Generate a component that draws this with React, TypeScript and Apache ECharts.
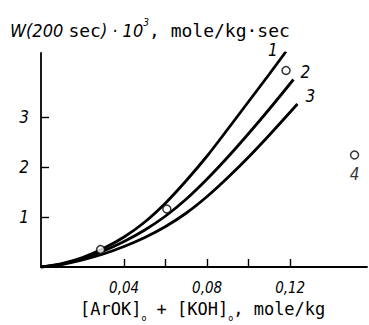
import React, { useEffect, useRef } from "react";
import * as echarts from "echarts";

const xValues = [0, 0.01, 0.02, 0.03, 0.04, 0.05, 0.06, 0.07, 0.08, 0.09, 0.1, 0.11];
const curve1 = [0, 0.07, 0.19, 0.37, 0.6, 0.9, 1.28, 1.73, 2.22, 2.76, 3.31, 3.86];
const curve1End = [0.118, 4.31];
const curve2 = [0, 0.06, 0.17, 0.32, 0.51, 0.74, 1.02, 1.36, 1.76, 2.2, 2.67, 3.16];
const curve2End = [0.1216, 3.75];
const curve3 = [0, 0.05, 0.14, 0.26, 0.41, 0.59, 0.81, 1.08, 1.41, 1.79, 2.2, 2.64];
const curve3End = [0.1235, 3.26];
const circlesX = [0.0287, 0.0606, 0.118];
const circlesY = [0.35, 1.16, 3.93];
const point4 = [0.151, 2.24];
const curveNames = ["1", "2", "3"];
const point4Name = "4";
const xTickValues = [0.04, 0.06, 0.08, 0.1, 0.12];
const xLabelValues = [0.04, 0.08, 0.12];
const yTickValues = [1, 2, 3];

const italicFont = "'Liberation Sans Narrow', 'DejaVu Sans Condensed', 'Liberation Sans', sans-serif";
const monoFont = "'DejaVu Sans Mono', 'Liberation Mono', monospace";

function toPairs(xs: number[], ys: number[], end: number[]) {
  return xs.map((x, i) => [x, ys[i]]).concat([end]);
}

export default function App() {
  const ref = useRef<HTMLDivElement>(null);
  useEffect(() => {
    if (!ref.current) return;
    const chart = echarts.init(ref.current, null, { renderer: "svg" });
    const lineStyle = { color: "#000", width: 2.8 };
    const endLabelBase = {
      show: true,
      color: "#000",
      fontFamily: italicFont,
      fontStyle: "italic" as const,
      fontSize: 17,
    };
    chart.setOption({
      animation: false,
      backgroundColor: "#fff",
      grid: { left: 41, right: 2, top: 53, bottom: 58 },
      xAxis: {
        type: "value",
        min: 0,
        max: 0.157,
        axisLine: { show: true, lineStyle: { color: "#000", width: 1.8 } },
        axisTick: {
          show: true,
          inside: true,
          length: 8,
          customValues: xTickValues,
          lineStyle: { color: "#000", width: 1.4 },
        },
        axisLabel: {
          show: true,
          customValues: xLabelValues,
          margin: 13,
          color: "#000",
          fontFamily: italicFont,
          fontStyle: "italic",
          fontSize: 15,
          formatter: (v: number) => v.toFixed(2).replace(".", ","),
        },
        splitLine: { show: false },
      },
      yAxis: {
        type: "value",
        min: 0,
        max: 4.28,
        axisLine: { show: true, lineStyle: { color: "#000", width: 1.8 } },
        axisTick: {
          show: true,
          inside: true,
          length: 8,
          customValues: yTickValues,
          lineStyle: { color: "#000", width: 1.4 },
        },
        axisLabel: {
          show: true,
          customValues: yTickValues,
          margin: 12,
          color: "#000",
          fontFamily: italicFont,
          fontStyle: "italic",
          fontSize: 17,
        },
        splitLine: { show: false },
      },
      series: [
        {
          type: "line",
          smooth: 0.3,
          showSymbol: false,
          data: toPairs(xValues, curve1, curve1End),
          lineStyle,
          endLabel: { ...endLabelBase, formatter: curveNames[0], offset: [-26, -2] },
        },
        {
          type: "line",
          smooth: 0.3,
          showSymbol: false,
          data: toPairs(xValues, curve2, curve2End),
          lineStyle,
          endLabel: { ...endLabelBase, formatter: curveNames[1], offset: [-1, -8] },
        },
        {
          type: "line",
          smooth: 0.3,
          showSymbol: false,
          data: toPairs(xValues, curve3, curve3End),
          lineStyle,
          endLabel: { ...endLabelBase, formatter: curveNames[2], offset: [0, -8] },
        },
        {
          type: "scatter",
          symbol: "circle",
          symbolSize: 8,
          itemStyle: { color: "#fff", borderColor: "#000", borderWidth: 1.5 },
          data: circlesX.map((x, i) => [x, circlesY[i]]),
          z: 5,
        },
        {
          type: "scatter",
          symbol: "circle",
          symbolSize: 8,
          itemStyle: { color: "#fff", borderColor: "#000", borderWidth: 1.5 },
          data: [point4],
          label: {
            show: true,
            position: "bottom",
            distance: 6,
            formatter: point4Name,
            color: "#000",
            fontFamily: italicFont,
            fontStyle: "italic",
            fontSize: 17,
          },
          z: 5,
        },
      ],
      graphic: [
        {
          type: "text",
          left: 10,
          top: 17,
          style: {
            text: "{i|W(200 }{m|sec}{i|) · 10}{sup|3}{m|, mole/kg·sec}",
            fill: "#000",
            rich: {
              i: { fontFamily: italicFont, fontStyle: "italic", fontSize: 18, lineHeight: 22, verticalAlign: "bottom" },
              m: { fontFamily: monoFont, fontSize: 18, lineHeight: 22, verticalAlign: "bottom" },
              sup: { fontFamily: italicFont, fontStyle: "italic", fontSize: 10, lineHeight: 22, verticalAlign: "top" },
            },
          },
        },
        {
          type: "text",
          left: 80,
          top: 300,
          style: {
            text: "{m|[ArOK]}{sub|o}{m| + [KOH]}{sub|o}{m|, mole/kg}",
            fill: "#000",
            rich: {
              m: { fontFamily: monoFont, fontSize: 17, lineHeight: 22, verticalAlign: "top" },
              sub: { fontFamily: italicFont, fontSize: 9, lineHeight: 22, verticalAlign: "bottom" },
            },
          },
        },
      ],
    });
    return () => chart.dispose();
  }, []);
  return (
    <div
      ref={ref}
      style={{ position: "fixed", left: 0, top: 0, width: 369, height: 325 }}
    />
  );
}
